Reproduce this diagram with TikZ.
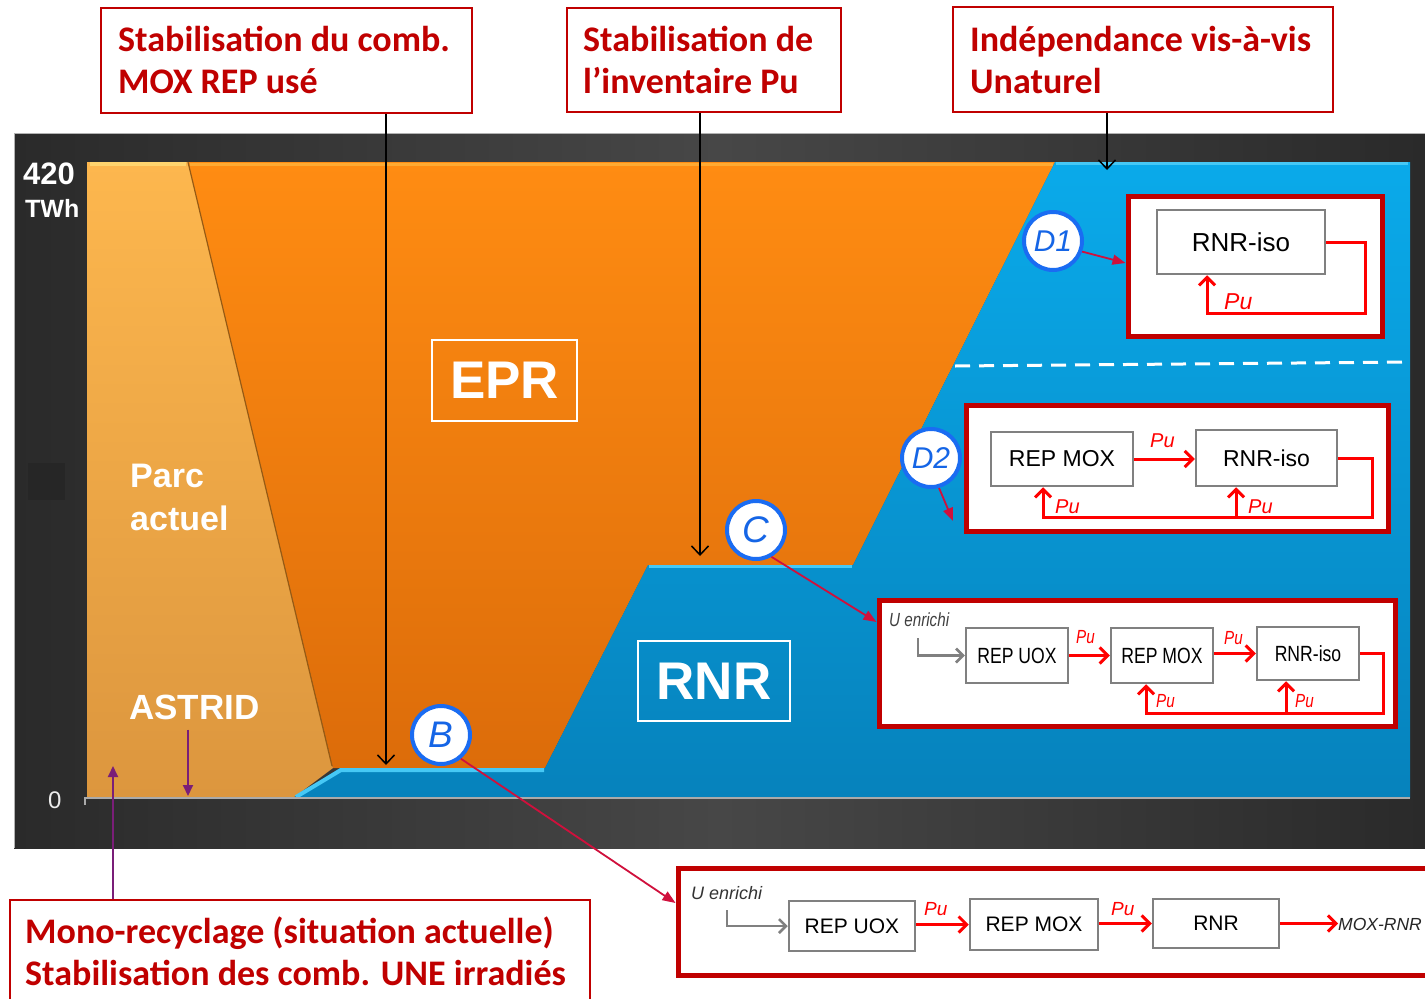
\documentclass[tikz,border=0pt]{standalone}
\usepackage{fontspec}
\usetikzlibrary{arrows.meta}
\newfontfamily\calibf{Carlito}
\newfontfamily\arialf{Liberation Sans}
\newfontfamily\narrowf[FakeStretch=0.8]{Liberation Sans}
\newcommand\fsz[1]{\fontsize{#1pt}{#1pt}\selectfont}
\definecolor{dred}{HTML}{C00000}
\definecolor{pured}{HTML}{FF0000}
\definecolor{cblue}{HTML}{1A6CF2}
\definecolor{ctext}{HTML}{1565E6}
\definecolor{boxgray}{HTML}{808080}
\definecolor{cpurple}{HTML}{7A1E78}
\definecolor{ccrimson}{HTML}{D0103C}
\definecolor{darkA}{HTML}{2A2A2A}
\definecolor{darkB}{HTML}{474747}
\definecolor{darkSq}{HTML}{262626}
\definecolor{orTop}{HTML}{FF8C12}
\definecolor{orBot}{HTML}{DC6C0A}
\definecolor{loTop}{HTML}{FDB74E}
\definecolor{loBot}{HTML}{DC963E}
\definecolor{blTop}{HTML}{0AAAEA}
\definecolor{blBot}{HTML}{0682BC}
\definecolor{hlLo}{HTML}{FFD46E}
\definecolor{hlOr}{HTML}{FFAA32}
\definecolor{shOr}{HTML}{965A14}
\definecolor{hlBl}{HTML}{46C8F5}
\definecolor{axisc}{HTML}{AAAAAA}
\begin{document}
\begin{tikzpicture}[x=1pt,y=-1pt,
 topbox/.style={draw=dred,line width=1.5pt,fill=white,inner sep=0pt},
 toptext/.style={anchor=base west,inner sep=0pt,text=dred,font=\calibf\bfseries\fsz{36}},
 wlbl/.style={anchor=base west,inner sep=0pt,text=white,font=\arialf\bfseries\fsz{#1}},
 bigbox/.style={draw=white,line width=2pt,inner sep=0pt,text=white,font=\arialf\bfseries\fsz{53}},
 circ/.style={circle,draw=cblue,line width=4pt,fill=white,minimum size=58pt,inner sep=0pt,text=ctext,font=\arialf\itshape\fsz{#1}},
 frame/.style={draw=dred,line width=5pt,fill=white,inner sep=0pt},
 gbox/.style={draw=boxgray,line width=2.5pt,fill=white,inner sep=0pt},
 redarr/.style={draw=pured,line width=3pt,-{Straight Barb[length=8pt,width=16pt]}},
 grayarr/.style={draw=boxgray,line width=2.5pt,-{Straight Barb[length=7pt,width=14pt]}},
 blackarr/.style={draw=black,line width=1.5pt,-{Straight Barb[length=9pt,width=17pt]}},
 purparr/.style={draw=cpurple,line width=2pt,-{Triangle[length=11pt,width=10pt]}},
 redcon/.style={draw=ccrimson,line width=1.8pt,-{Triangle[length=13pt,width=10pt]}},
 pulbl/.style={anchor=base west,inner sep=0pt,text=pured,font=\arialf\itshape\fsz{#1}},
 pun/.style={anchor=base west,inner sep=0pt,text=pured,font=\narrowf\itshape\fsz{19}},
]
\useasboundingbox (0,0) rectangle (1425,999);
\clip (0,0) rectangle (1425,999);
\fill[white] (0,0) rectangle (1425,999);

% dark chart background
\shade[left color=darkA,right color=darkA,middle color=darkB] (14,133) rectangle (1425,848);
\draw[gray!60,line width=1pt] (14,848) -- (14,133) -- (1425,133);
\fill[darkSq] (28,463) rectangle (65,500);

% areas
\shade[top color=loTop,bottom color=loBot] (87,162) -- (188,162) -- (333,768) -- (293,798) -- (87,798) -- cycle;
\shade[top color=orTop,bottom color=orBot] (188,162) -- (1055,162) -- (853,565) -- (648,565) -- (545,768) -- (333,768) -- cycle;
\shade[top color=blTop,bottom color=blBot] (293,798) -- (340,768) -- (545,768) -- (648,565) -- (853,565) -- (1055,162) -- (1410,162) -- (1410,798) -- cycle;
% bevel highlights
\draw[hlLo,line width=4pt] (90,164) -- (186,164);
\draw[hlOr,line width=3pt] (190,164) -- (1053,164);
\draw[shOr,line width=1.2pt] (188,162) -- (332,766);
\draw[hlBl,line width=4pt] (296,797) -- (341,770) -- (544,770);
\draw[hlBl,line width=3pt] (649,566.5) -- (852,566.5);
\draw[hlBl,line width=3pt] (1056,163.5) -- (1408,163.5);
% axis
\draw[axisc,line width=2pt] (85,805) -- (85,798) -- (1410,798);
% dashed separator
\coordinate (dsA) at (955,366);
\coordinate (dsB) at (1410,362);
\draw[white,line width=3pt,dash pattern=on 15pt off 9pt] (dsA) -- (dsB);

% axis labels
\node[wlbl=31] (v420) at (23,184) {420};
\node[wlbl=25] (vtwh) at (25,217) {TWh};
\node[anchor=base west,inner sep=0pt,text=gray!15,font=\arialf\fsz{24}] (v0) at (48,808) {0};

% area labels
\node[wlbl=34] (parc1) at (130,487) {Parc};
\node[wlbl=34] (parc2) at (130,530) {actuel};
\node[wlbl=35] (astrid) at (129,719) {ASTRID};
\node[bigbox,minimum width=145pt,minimum height=81pt] (epr) at (504.5,380.5) {EPR};
\node[bigbox,minimum width=152pt,minimum height=80pt] (rnr) at (714,681) {RNR};

% top annotation boxes
\node[topbox,minimum width=371pt,minimum height=105pt] (box1) at (286.5,60.5) {};
\node[toptext] (b1a) at (118,51) {Stabilisation du comb.};
\node[toptext] (b1b) at (118,93) {MOX REP usé};
\node[topbox,minimum width=274pt,minimum height=104pt] (box2) at (704,60) {};
\node[toptext] (b2a) at (583,51) {Stabilisation de};
\node[toptext] (b2b) at (583,93) {l’inventaire Pu};
\node[topbox,minimum width=380pt,minimum height=105pt] (box3) at (1143,59.5) {};
\node[toptext] (b3a) at (970,51) {Indépendance vis-à-vis};
\node[toptext] (b3b) at (970,93) {Unaturel};
\node[topbox,minimum width=580pt,minimum height=110pt] (box4) at (300,955) {};
\node[toptext] (b4a) at (25,943) {Mono-recyclage (situation actuelle)};
\node[toptext] (b4b) at (25,985) {Stabilisation des comb. UNE irradiés};

% black arrows
\coordinate (t1) at (386,765);
\coordinate (t2) at (700,556);
\coordinate (t3) at (1107,170);
\draw[blackarr] (box1.south -| t1) -- (t1);
\draw[blackarr] (box2.south -| t2) -- (t2);
\draw[blackarr] (box3.south -| t3) -- (t3);
% purple arrows
\coordinate (pm) at (113,766);
\coordinate (pa) at (188,796);
\draw[purparr] (box4.north -| pm) -- (pm);
\draw[purparr,shorten <=10pt] (astrid.south -| pa) -- (pa);

% D1 scheme
\node[frame,minimum width=254pt,minimum height=140pt] (f1) at (1255,266) {};
\node[gbox,minimum width=168pt,minimum height=64pt,font=\arialf\fsz{26}] (r1) at (1241,242) {RNR-iso};
\coordinate (l1) at (1365,313);
\draw[redarr] (r1.east) -| (l1) -| (r1.south -| 1207,0);
\node[pulbl=23] (pu1) at (1224,309) {Pu};

% D2 scheme
\node[frame,minimum width=422pt,minimum height=126pt] (f2) at (1177,468) {};
\node[gbox,minimum width=142pt,minimum height=54pt,font=\arialf\fsz{23}] (m2) at (1062,459) {REP MOX};
\node[gbox,minimum width=141pt,minimum height=56pt,font=\arialf\fsz{23}] (r2) at (1266.5,458) {RNR-iso};
\draw[redarr] (m2.east) -- (m2.east -| r2.west);
\coordinate (l2) at (1372,517);
\coordinate (j2) at (1236,517);
\draw[redarr] (r2.east) -| (l2) -| (m2.south -| 1043,0);
\draw[redarr] (j2) -- (r2.south -| j2);
\node[pulbl=20] (pu2a) at (1150,447) {Pu};
\node[pulbl=20] (pu2b) at (1055,513) {Pu};
\node[pulbl=20] (pu2c) at (1248,513) {Pu};

% C scheme
\node[frame,minimum width=516pt,minimum height=126pt] (f3) at (1137,663) {};
\node[anchor=base west,inner sep=0pt,text=black!75,font=\narrowf\itshape\fsz{19}] (ue3) at (889,626) {U enrichi};
\node[gbox,minimum width=102pt,minimum height=55pt,font=\narrowf\fsz{22}] (u3) at (1017,655.5) {REP UOX};
\node[gbox,minimum width=102pt,minimum height=55pt,font=\narrowf\fsz{22}] (m3) at (1162,655.5) {REP MOX};
\node[gbox,minimum width=102pt,minimum height=53pt,font=\narrowf\fsz{22}] (r3) at (1308,653.5) {RNR-iso};
\coordinate (g3) at (918,638);
\draw[grayarr] (g3) |- (u3.west);
\draw[redarr] (u3.east) -- (u3.east -| m3.west);
\draw[redarr] (m3.east |- r3.west) -- (r3.west);
\coordinate (l3) at (1383,713);
\coordinate (j3) at (1286,713);
\draw[redarr] (r3.east) -| (l3) -| (m3.south -| 1146,0);
\draw[redarr] (j3) -- (r3.south -| j3);
\node[pun] (pu3a) at (1076,643) {Pu};
\node[pun] (pu3b) at (1224,644) {Pu};
\node[pun] (pu3c) at (1156,707) {Pu};
\node[pun] (pu3d) at (1295,707) {Pu};

% bottom scheme
\node[frame,minimum width=767pt,minimum height=107pt] (f4) at (1061.5,921.5) {};
\node[anchor=base west,inner sep=0pt,text=black!80,font=\arialf\itshape\fsz{18}] (ue4) at (691,899) {U enrichi};
\node[gbox,minimum width=126pt,minimum height=50pt,font=\arialf\fsz{21}] (u4) at (852,926) {REP UOX};
\node[gbox,minimum width=128pt,minimum height=51pt,font=\arialf\fsz{21}] (m4) at (1034,924.5) {REP MOX};
\node[gbox,minimum width=126pt,minimum height=49pt,font=\arialf\fsz{21}] (r4) at (1216,923.5) {RNR};
\coordinate (g4) at (727,910);
\draw[grayarr] (g4) |- (u4.west);
\draw[redarr] (u4.east |- m4.west) -- (m4.west);
\draw[redarr] (m4.east |- r4.west) -- (r4.west);
\node[anchor=base west,inner sep=0pt,text=black!85,font=\arialf\itshape\fsz{17.5}] (mox) at (1338,930) {MOX-RNR};
\draw[redarr] (r4.east) -- (r4.east -| mox.west);
\node[pulbl=19] (pu4a) at (924,915) {Pu};
\node[pulbl=19] (pu4b) at (1111,915) {Pu};

% circles
\node[circ=37] (B) at (441,735) {B};
\node[circ=37] (C) at (756,530) {C};
\node[circ=30] (D1) at (1053,241) {D1};
\node[circ=30] (D2) at (931,458) {D2};
\coordinate (d2e) at (953,521);
\draw[redcon] (B.-50) -- ([yshift=18.5pt]f4.west);
\draw[redcon] (C.-60) -- ([yshift=41pt]f3.west);
\draw[redcon] (D1.-20) -- ([yshift=3pt]f1.west);
\draw[redcon] (D2.-75) -- (d2e);
\end{tikzpicture}
\end{document}
